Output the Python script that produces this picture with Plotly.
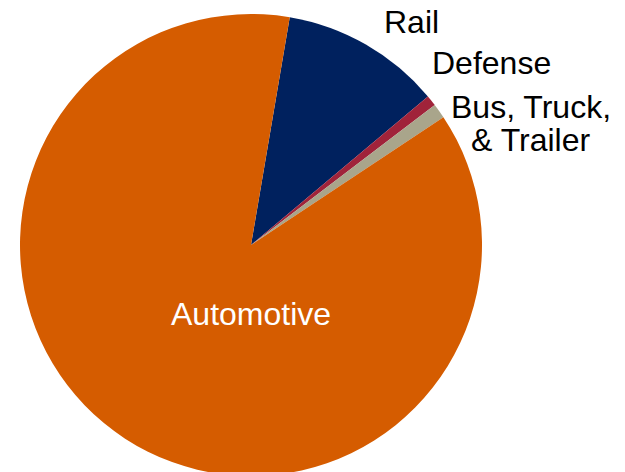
import plotly.graph_objects as go

categories = ["Rail", "Defense", "Bus, Truck, & Trailer", "Automotive"]
values = [11.2, 0.75, 1.03, 87.0]
colors = ["#00215E", "#A0233A", "#A9A58B", "#D55C00"]

W, H = 625, 472
OFF = 8  # page body offset
MT, MB, ML, MR = 6, 4, 0, 0
PW, PH = W - ML - MR, H - MT - MB


def px(x):
    return (x - OFF - ML) / PW


def py(y):
    return 1 - (y - OFF - MT) / PH


cx = 251
half = 240
fig = go.Figure(go.Pie(
    labels=categories,
    values=values,
    marker=dict(colors=colors, line=dict(width=0)),
    sort=False,
    direction="clockwise",
    rotation=9.66,
    textinfo="none",
    hoverinfo="label+percent",
    domain=dict(x=[px(cx - half), px(cx + half)], y=[0, 1]),
    showlegend=False,
))

family = "Arial, Liberation Sans, sans-serif"
labels = [
    ("Rail", 411, 22, "black"),
    ("Defense", 491, 63, "black"),
    ("Bus, Truck,", 531, 107, "black"),
    ("& Trailer", 530, 140, "black"),
    ("Automotive", 251, 314, "white"),
]
annotations = []
for text, x, y, c in labels:
    annotations.append(dict(
        text=text, x=px(x), y=py(y), xref="paper", yref="paper",
        xanchor="center", yanchor="middle", showarrow=False,
        font=dict(family=family, size=32, color=c),
    ))

fig.update_layout(
    width=W, height=H,
    margin=dict(l=ML, r=MR, t=MT, b=MB, pad=0),
    paper_bgcolor="white", plot_bgcolor="white",
    annotations=annotations,
)

fig.write_html("out.html")
